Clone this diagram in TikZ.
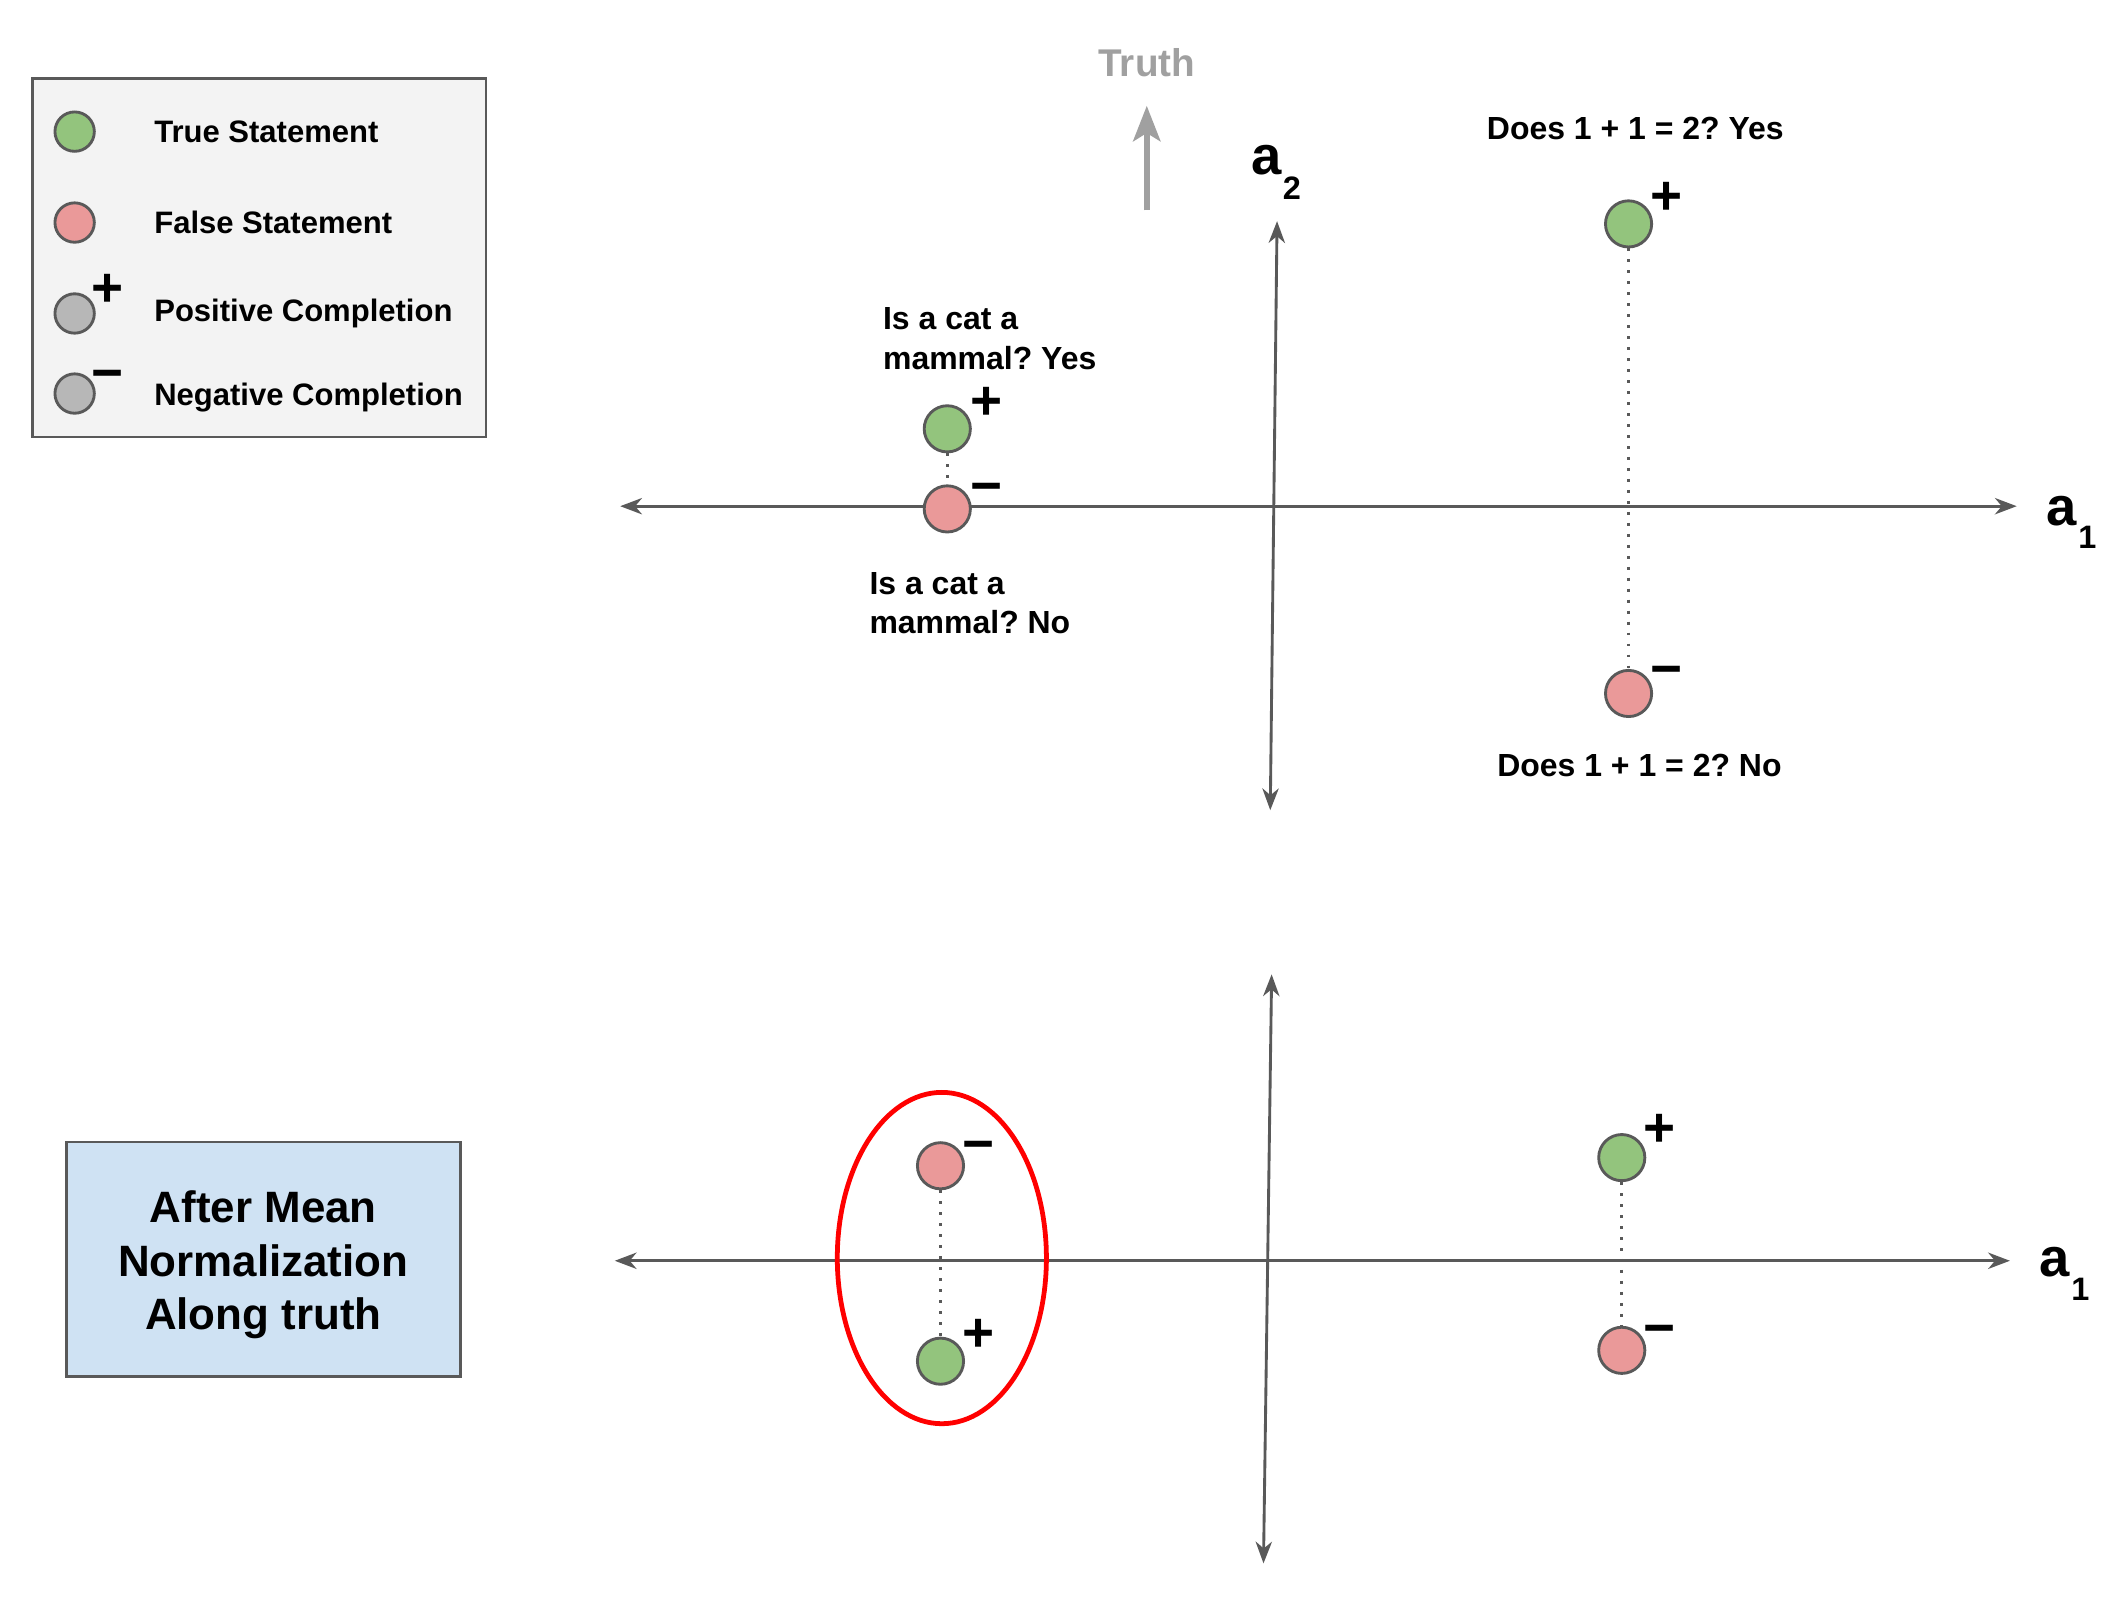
\documentclass[tikz,border=0pt]{standalone}
\usepackage{fontspec}
\setmainfont{Liberation Sans}
\usetikzlibrary{arrows.meta,positioning,shapes.geometric}
\definecolor{TrueGreen}{HTML}{93C47D}
\definecolor{FalseRed}{HTML}{EA9999}
\definecolor{Neutral}{HTML}{B7B7B7}
\definecolor{Edge}{HTML}{595959}
\definecolor{LegendBg}{HTML}{F3F3F3}
\definecolor{NoteBlue}{HTML}{CFE2F3}
\definecolor{TruthGray}{HTML}{A0A0A0}
\frenchspacing

\begin{document}
\begin{tikzpicture}[x=0.01cm, y=-0.01cm,
  >={Stealth[length=0.16cm, width=0.12cm, inset=0.05cm]},
  every node/.style={font=\bfseries\fontsize{6.7}{8.3}\selectfont},
  dot/.style={circle, draw=Edge, line width=0.6pt, minimum size=0.34cm, inner sep=0pt},
  keydot/.style={dot, minimum size=0.29cm, fill=Neutral},
  keytx/.style={anchor=base west, inner sep=0pt, font=\bfseries\fontsize{6.5}{8}\selectfont},
  sgn/.style={font=\bfseries\fontsize{11.5}{12}\selectfont, inner sep=0pt},
  axlbl/.style={font=\bfseries\fontsize{11.4}{12}\selectfont, inner sep=0pt},
  axsub/.style={font=\bfseries\fontsize{6.8}{8}\selectfont, inner sep=0pt},
  axis/.style={<->, draw=Edge, line width=0.6pt},
  pair/.style={draw=Edge, line width=0.6pt, dash pattern=on 0.6pt off 1.7pt},
  qtext/.style={align=left, inner sep=0pt}]
  \useasboundingbox[fill=white] (0,0) rectangle (1568,1180);

  % legend
  \node[draw=Edge, fill=LegendBg, line width=0.5pt, minimum width=3.34cm, minimum height=2.64cm, inner sep=0pt] (legend) at (191,190) {};
  \node[keydot, fill=TrueGreen] (kt) at (55,97) {};
  \node[keydot, fill=FalseRed] (kf) at (55,164) {};
  \node[keydot] (kp) at (55,231) {};
  \node[keydot] (kn) at (55,290) {};
  \node[sgn] (kps) at ([shift={(24,-17)}]kp) {+};
  \node[sgn] (kns) at ([shift={(24,-9)}]kn) {−};
  \node[keytx] (kttx) at (113,105) {True Statement};
  \node[keytx] (kftx) at (113,172) {False Statement};
  \node[keytx] (kptx) at (113,237) {Positive Completion};
  \node[keytx] (kntx) at (113,299) {Negative Completion};

  % truth direction
  \node[text=TruthGray, font=\bfseries\fontsize{8.1}{9}\selectfont] (truth) at (845,46) {Truth};
  \coordinate (tr0) at (845,155);
  \coordinate (tr1) at (845,78);
  \draw[-{Stealth[length=0.26cm, width=0.2cm, inset=0.06cm]}, TruthGray, line width=1.25pt] (tr0) -- (tr1);

  % top axes
  \coordinate (ax1l) at (457,373);
  \coordinate (ax1r) at (1486,373);
  \coordinate (ay1t) at (941,163);
  \coordinate (ay1b) at (936,597);
  \draw[axis] (ax1l) -- (ax1r);
  \draw[axis] (ay1b) -- (ay1t);
  \node[axlbl] (a1t) at (1519,377) {a};
  \node[axsub] (a1ts) at (1538,396) {1};
  \node[axlbl] (a2t) at (933,118) {a};
  \node[axsub] (a2ts) at (952,139) {2};

  \node[dot, fill=TrueGreen] (catyes) at (698,316) {};
  \node[dot, fill=FalseRed] (catno) at (698,375) {};
  \node[dot, fill=TrueGreen] (sumyes) at (1200,165) {};
  \node[dot, fill=FalseRed] (sumno) at (1200,511) {};
  \draw[pair] (catyes) -- (catno);
  \draw[pair] (sumyes) -- (sumno);
  \node[sgn] (catyess) at ([shift={(29,-19)}]catyes) {+};
  \node[sgn] (catnos) at ([shift={(29,-11)}]catno) {−};
  \node[sgn] (sumyess) at ([shift={(28,-19)}]sumyes) {+};
  \node[sgn] (sumnos) at ([shift={(28,-12)}]sumno) {−};
  \node[qtext, anchor=north west] (catyestx) at (650,226) {Is a cat a\\mammal? Yes};
  \node[qtext, anchor=north west] (catnotx) at (640,421) {Is a cat a\\mammal? No};
  \node (sumyestx) at (1205,95) {Does 1 + 1 = 2? Yes};
  \node (sumnotx) at (1208,564) {Does 1 + 1 = 2? No};

  % bottom axes
  \coordinate (ax2l) at (453,929);
  \coordinate (ax2r) at (1481,929);
  \coordinate (ay2t) at (937,718);
  \coordinate (ay2b) at (931,1152);
  \draw[axis] (ax2l) -- (ax2r);
  \draw[axis] (ay2b) -- (ay2t);
  \node[axlbl] (a1b) at (1514,930) {a};
  \node[axsub] (a1bs) at (1533,950) {1};

  \node[ellipse, draw=red, line width=1pt, minimum width=1.54cm, minimum height=2.44cm, inner sep=0pt] (grp) at (694,927) {};
  \node[dot, fill=FalseRed] (catnoN) at (693,859) {};
  \node[dot, fill=TrueGreen] (catyesN) at (693,1003) {};
  \node[dot, fill=TrueGreen] (sumyesN) at (1195,853) {};
  \node[dot, fill=FalseRed] (sumnoN) at (1195,995) {};
  \draw[pair] (catnoN) -- (catyesN);
  \draw[pair] (sumyesN) -- (sumnoN);
  \node[sgn] (catnoNs) at ([shift={(28,-10)}]catnoN) {−};
  \node[sgn] (catyesNs) at ([shift={(28,-19)}]catyesN) {+};
  \node[sgn] (sumyesNs) at ([shift={(28,-20)}]sumyesN) {+};
  \node[sgn] (sumnoNs) at ([shift={(28,-11)}]sumnoN) {−};

  % note box
  \node[draw=Edge, fill=NoteBlue, line width=0.6pt, minimum width=2.9cm, minimum height=1.73cm] (note) at (194,928) {};
  \node[align=center, inner sep=0pt, font=\bfseries\fontsize{9.2}{11.2}\selectfont] (notetx) at (194,932) {After Mean\\Normalization\\Along truth};
\end{tikzpicture}
\end{document}
